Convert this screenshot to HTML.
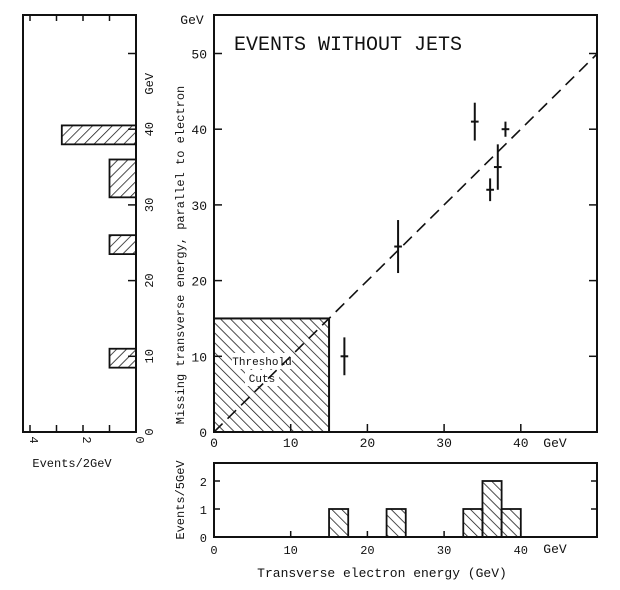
<!DOCTYPE html>
<html><head><meta charset="utf-8"><style>
body{margin:0;background:#fff}
svg text{font-family:"Liberation Mono","DejaVu Sans Mono",monospace;fill:#111}
</style></head><body>
<svg width="620" height="585" viewBox="0 0 620 585" xmlns="http://www.w3.org/2000/svg">
<defs>
<pattern id="hf" width="7" height="7" patternUnits="userSpaceOnUse" patternTransform="rotate(45)"><line x1="0" y1="0" x2="0" y2="7" stroke="#111" stroke-width="1.5"/></pattern>
<pattern id="hb" width="7" height="7" patternUnits="userSpaceOnUse" patternTransform="rotate(-45)"><line x1="0" y1="0" x2="0" y2="7" stroke="#111" stroke-width="1.5"/></pattern>
</defs>
<g id="g"></g>
</svg>
<script>
const pts_x=[17,24,34,36,37,38];
const pts_y=[10,24.5,41,32,35,40];
const pts_err=[2.5,3.5,2.5,1.5,3,1];
const sideLo=[38,31,23.5,8.5];
const sideHi=[40.5,36,26,11];
const sideV=[2.8,1,1,1];
const botLo=[15,22.5,32.5,35,37.5];
const botHi=[17.5,25,35,37.5,40];
const botV=[1,1,1,2,1];
const xTicks=[0,10,20,30,40];
const yTicks=[0,10,20,30,40,50];

const X=v=>214+v*7.67, Y=v=>432-v*7.57;
const SX=v=>136-v*26.5, BY=v=>537-v*28;
const NS="http://www.w3.org/2000/svg", g=document.getElementById('g');
function mk(t,a,txt){const e=document.createElementNS(NS,t);for(const k in a)e.setAttribute(k,a[k]);if(txt!=null)e.textContent=txt;g.appendChild(e);return e;}
const ln=(x1,y1,x2,y2,w)=>mk('line',{x1,y1,x2,y2,stroke:'#111','stroke-width':w||1.5});

let e=mk('rect',{x:214,y:15,width:383,height:417,fill:'none',stroke:'#111','stroke-width':2});

e=mk('rect',{x:X(0),y:Y(15),width:X(15)-X(0),height:Y(0)-Y(15),fill:'url(#hb)',stroke:'#111','stroke-width':2});

mk('rect',{x:232,y:353,width:60,height:16,fill:'#fff'});
mk('rect',{x:245,y:370,width:34,height:16,fill:'#fff'});
e=mk('text',{x:262,y:365,'font-size':11,'text-anchor':'middle'},'Threshold');

mk('text',{x:262,y:382,'font-size':11,'text-anchor':'middle'},'Cuts');
e=mk('line',{x1:X(0),y1:Y(0),x2:X(50),y2:Y(50),stroke:'#111','stroke-width':1.6,'stroke-dasharray':'12,7'});

xTicks.forEach(t=>{ln(X(t),432,X(t),424);e=mk('text',{x:X(t),y:447,'font-size':13,'text-anchor':'middle'},t);
});
mk('text',{x:555,y:447,'font-size':13,'text-anchor':'middle'},'GeV');
yTicks.forEach(t=>{ln(214,Y(t),222,Y(t));ln(597,Y(t),589,Y(t));e=mk('text',{x:207,y:Y(t)+5,'font-size':13,'text-anchor':'end'},t);
});
mk('text',{x:192,y:24,'font-size':13,'text-anchor':'middle'},'GeV');
e=mk('text',{x:234,y:50,'font-size':20,'letter-spacing':'0'},'EVENTS  WITHOUT  JETS');

e=mk('text',{x:0,y:0,'font-size':12,'text-anchor':'middle',transform:'translate(184,255) rotate(-90)'},'Missing  transverse  energy, parallel  to  electron');

pts_x.forEach((v,i)=>{const w=mk('g',{});

[[X(v),Y(pts_y[i]-pts_err[i]),X(v),Y(pts_y[i]+pts_err[i])],[X(v-0.5),Y(pts_y[i]),X(v+0.5),Y(pts_y[i])]].forEach(c=>{
const l=document.createElementNS(NS,'line');l.setAttribute('x1',c[0]);l.setAttribute('y1',c[1]);l.setAttribute('x2',c[2]);l.setAttribute('y2',c[3]);l.setAttribute('stroke','#111');l.setAttribute('stroke-width',2);w.appendChild(l);});});

e=mk('rect',{x:23,y:15,width:113,height:417,fill:'none',stroke:'#111','stroke-width':2});

sideLo.forEach((lo,i)=>{e=mk('rect',{x:SX(sideV[i]),y:Y(sideHi[i]),width:136-SX(sideV[i]),height:Y(lo)-Y(sideHi[i]),fill:'url(#hf)',stroke:'#111','stroke-width':1.8});
});
yTicks.forEach(t=>{ln(136,Y(t),128,Y(t));if(t<50){e=mk('text',{x:0,y:0,'font-size':12,'text-anchor':'middle',transform:`translate(153,${Y(t)}) rotate(-90)`},t);
}});
mk('text',{x:0,y:0,'font-size':12,'text-anchor':'middle',transform:`translate(153,${Y(46)}) rotate(-90)`},'GeV');
[0,1,2,3,4].forEach(t=>{ln(SX(t),432,SX(t),425);ln(SX(t),15,SX(t),21);if(t%2==0){e=mk('text',{x:0,y:0,'font-size':12,'text-anchor':'middle',transform:`translate(${SX(t)},440) rotate(90)`},t);
}});
e=mk('text',{x:72,y:467,'font-size':12,'text-anchor':'middle'},'Events/2GeV');


e=mk('rect',{x:214,y:463,width:383,height:74,fill:'none',stroke:'#111','stroke-width':2});

botLo.forEach((lo,i)=>{e=mk('rect',{x:X(lo),y:BY(botV[i]),width:X(botHi[i])-X(lo),height:537-BY(botV[i]),fill:'url(#hb)',stroke:'#111','stroke-width':1.8});
});
[0,1,2].forEach(t=>{ln(214,BY(t),220,BY(t));ln(597,BY(t),591,BY(t));e=mk('text',{x:207,y:BY(t)+5,'font-size':12,'text-anchor':'end'},t);
});
xTicks.forEach(t=>{ln(X(t),537,X(t),531);e=mk('text',{x:X(t),y:554,'font-size':12,'text-anchor':'middle'},t);
});
mk('text',{x:555,y:553,'font-size':13,'text-anchor':'middle'},'GeV');
e=mk('text',{x:0,y:0,'font-size':12,'text-anchor':'middle',transform:'translate(184,500) rotate(-90)'},'Events/5GeV');

e=mk('text',{x:382,y:577,'font-size':13,'text-anchor':'middle'},'Transverse  electron  energy  (GeV)');

</script>
</body></html>
